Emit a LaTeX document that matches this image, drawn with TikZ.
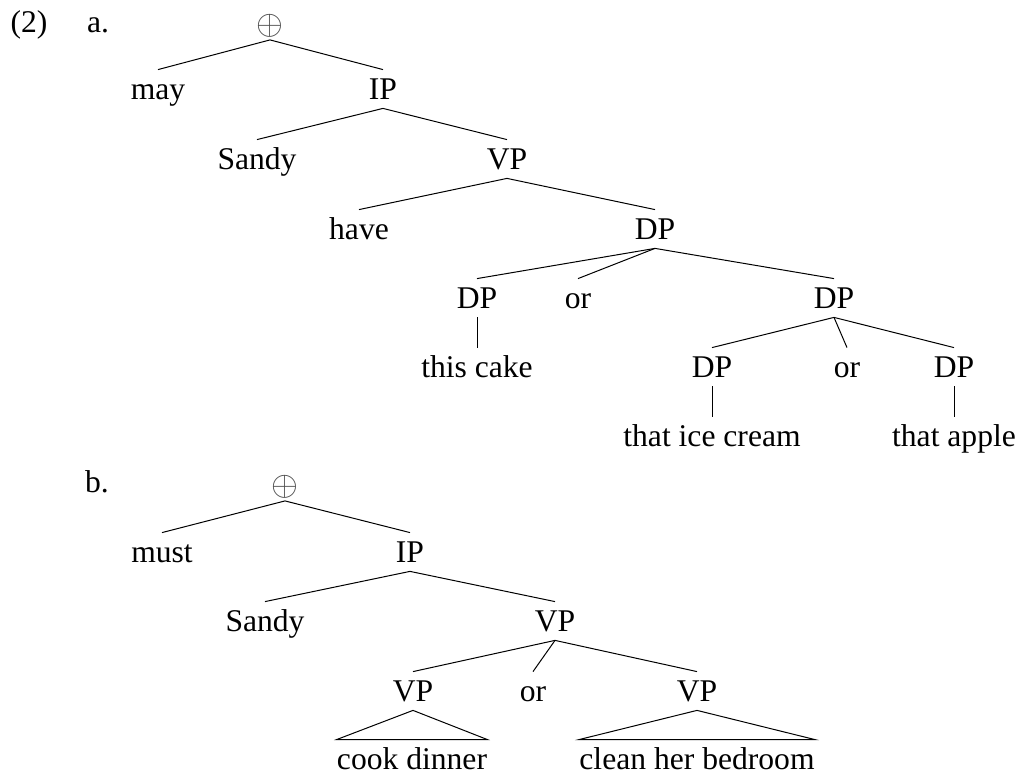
\documentclass[tikz,border=0pt]{standalone}
\usepackage{fontspec}
\setmainfont{Liberation Serif}

\begin{document}
\begin{tikzpicture}[
    x=0.5pt, y=-0.5pt,
    font=\fontsize{15.8}{19}\selectfont,
    cat/.style={anchor=base, text height=11pt, text depth=0pt, inner sep=4pt},
    leaf/.style={cat, inner xsep=0pt},
    plus/.style={inner sep=1pt, text=black!70, font=\fontsize{17}{19}\selectfont},
    branch/.style={line width=0.5pt}
]
    \useasboundingbox (0,0) rectangle (1019,774);

    % Example labels
    \node[anchor=base] (exnum) at (29,33) {(2)};
    \node[anchor=base] (parta) at (98,33) {a.};
    \node[anchor=base] (partb) at (97,493) {b.};

    % Tree a
    \node[plus] (sumA) at (270,26) {$\oplus$};
    \node[cat] (mayA) at (158,100) {may};
    \node[cat] (ipA) at (383,100) {IP};
    \node[cat] (sandyA) at (257,170) {Sandy};
    \node[cat] (vpA) at (507,170) {VP};
    \node[cat] (haveA) at (359,240) {have};
    \node[cat] (dpA) at (655,240) {DP};
    \node[cat] (dpA1) at (477,309) {DP};
    \node[cat] (orA1) at (578,309) {or};
    \node[cat] (dpA2) at (834,309) {DP};
    \node[cat] (cakeA) at (477,378) {this cake};
    \node[cat] (dpA3) at (712,378) {DP};
    \node[cat] (orA2) at (847,378) {or};
    \node[cat] (dpA4) at (954,378) {DP};
    \node[cat] (creamA) at (712,447) {that ice cream};
    \node[cat] (appleA) at (954,447) {that apple};

    \draw[branch] (sumA.south) -- (mayA.north);
    \draw[branch] (sumA.south) -- (ipA.north);
    \draw[branch] (ipA.south) -- (sandyA.north);
    \draw[branch] (ipA.south) -- (vpA.north);
    \draw[branch] (vpA.south) -- (haveA.north);
    \draw[branch] (vpA.south) -- (dpA.north);
    \draw[branch] (dpA.south) -- (dpA1.north);
    \draw[branch] (dpA.south) -- (orA1.north);
    \draw[branch] (dpA.south) -- (dpA2.north);
    \draw[branch] (dpA1.south) -- (cakeA.north);
    \draw[branch] (dpA2.south) -- (dpA3.north);
    \draw[branch] (dpA2.south) -- (orA2.north);
    \draw[branch] (dpA2.south) -- (dpA4.north);
    \draw[branch] (dpA3.south) -- (creamA.north);
    \draw[branch] (dpA4.south) -- (appleA.north);

    % Tree b
    \node[plus] (sumB) at (285,487) {$\oplus$};
    \node[cat] (mustB) at (162,563) {must};
    \node[cat] (ipB) at (410,563) {IP};
    \node[cat] (sandyB) at (265,632) {Sandy};
    \node[cat] (vpB) at (555,632) {VP};
    \node[cat] (vpB1) at (413,702) {VP};
    \node[cat] (orB) at (533,702) {or};
    \node[cat] (vpB2) at (697,702) {VP};
    \node[leaf] (cookB) at (412,770) {cook dinner};
    \node[leaf] (cleanB) at (697,770) {clean her bedroom};

    \draw[branch] (sumB.south) -- (mustB.north);
    \draw[branch] (sumB.south) -- (ipB.north);
    \draw[branch] (ipB.south) -- (sandyB.north);
    \draw[branch] (ipB.south) -- (vpB.north);
    \draw[branch] (vpB.south) -- (vpB1.north);
    \draw[branch] (vpB.south) -- (orB.north);
    \draw[branch] (vpB.south) -- (vpB2.north);

    % Triangles
    \draw[branch] (vpB1.south) -- (cookB.north west) -- (cookB.north east) -- cycle;
    \draw[branch] (vpB2.south) -- (cleanB.north west) -- (cleanB.north east) -- cycle;
\end{tikzpicture}
\end{document}
